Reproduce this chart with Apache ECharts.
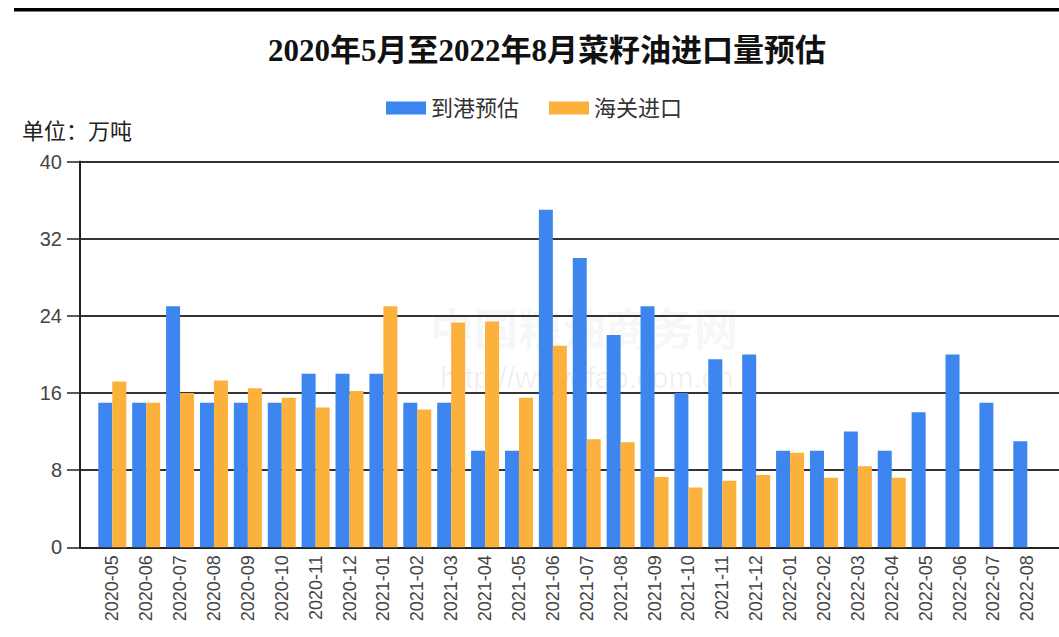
<!DOCTYPE html>
<html>
<head>
<meta charset="utf-8">
<script src="https://cdn.jsdelivr.net/npm/echarts@6/dist/echarts.min.js"></script>
<style>
  html, body { margin: 0; padding: 0; background: #fff; }
  #chart { width: 1059px; height: 637px; }
</style>
</head>
<body>
<div id="chart"></div>
<script>
// 月份
const months = [
  '2020-05', '2020-06', '2020-07', '2020-08', '2020-09', '2020-10', '2020-11', '2020-12',
  '2021-01', '2021-02', '2021-03', '2021-04', '2021-05', '2021-06', '2021-07', '2021-08',
  '2021-09', '2021-10', '2021-11', '2021-12', '2022-01', '2022-02', '2022-03', '2022-04',
  '2022-05', '2022-06', '2022-07', '2022-08'
]
// 到港预估（万吨）
const arrivalEstimate = [
  15, 15, 25, 15, 15, 15, 18, 18,
  18, 15, 15, 10, 10, 35, 30, 22,
  25, 16, 19.5, 20, 10, 10, 12, 10,
  14, 20, 15, 11
]
// 海关进口（万吨）
const customsImport = [
  17.2, 15, 16, 17.3, 16.5, 15.5, 14.5, 16.2,
  25, 14.3, 23.3, 23.4, 15.5, 20.9, 11.2, 10.9,
  7.3, 6.2, 6.9, 7.5, 9.8, 7.2, 8.4, 7.2,
  null, null, null, null
]
const seriesNames = ['到港预估', '海关进口']
const yTicks = { min: 0, max: 40, interval: 8 }

const font = "'Liberation Sans', 'Noto Sans CJK SC', sans-serif"
const lineColor = '#222'

const chart = echarts.init(document.getElementById('chart'), null, { renderer: 'svg' })

const option = {
  backgroundColor: '#fff',
  animation: false,
  color: ['#3D86F0', '#FBB13C'],
  title: {
    text: '2020年5月至2022年8月菜籽油进口量预估',
    left: 542,
    textAlign: 'center',
    top: 30,
    textStyle: {
      fontFamily: "'Liberation Serif', 'Noto Sans CJK SC', serif",
      fontSize: 31,
      fontWeight: 'bold',
      color: '#111'
    }
  },
  legend: {
    data: seriesNames,
    left: 381,
    top: 92,
    itemWidth: 40,
    itemHeight: 13,
    itemGap: 30,
    icon: 'rect',
    textStyle: { fontFamily: font, fontSize: 22, color: '#333', padding: [0, 0, 0, 0] }
  },
  graphic: [
    // 顶部黑线
    { type: 'rect', left: 14, top: 8, shape: { width: 1045, height: 3.5 }, style: { fill: '#000' } },
    // 单位
    { type: 'text', left: 22, top: 120, style: { text: '单位：万吨', font: `22px ${font}`, fill: '#222' } },
    // 水印
    { type: 'text', left: 430, top: 305, z: -1, style: { text: '中国粮油商务网', font: `bold 44px 'Noto Sans CJK SC'`, fill: 'rgba(0,0,0,0.055)' } },
    { type: 'text', left: 440, top: 362, z: -1, style: { text: 'http://www.fao.com.cn', font: `30px ${font}`, fill: 'rgba(0,0,0,0.065)' } }
  ],
  grid: [
    // 坐标框与网格线
    { left: 80, right: 0, top: 161.5, bottom: 89.7 },
    // 柱子所在区域
    { left: 95.35, right: 14.75, top: 161.5, bottom: 89.7 }
  ],
  xAxis: [
    {
      gridIndex: 0,
      type: 'category',
      data: months,
      axisLine: { lineStyle: { color: lineColor, width: 2 } },
      axisTick: { show: false },
      axisLabel: { show: false }
    },
    {
      gridIndex: 1,
      type: 'category',
      data: months,
      axisLine: { show: false },
      axisTick: { alignWithLabel: true, length: 6, lineStyle: { color: lineColor, width: 2 } },
      axisLabel: {
        rotate: 90,
        margin: 8,
        fontFamily: font,
        fontSize: 18,
        color: '#444',
        padding: [0, 0, 10, 0]
      }
    }
  ],
  yAxis: [
    {
      gridIndex: 0,
      type: 'value',
      ...yTicks,
      axisLine: { show: true, lineStyle: { color: lineColor, width: 2 } },
      axisTick: { show: true, length: 13, lineStyle: { color: lineColor, width: 1.5 } },
      axisLabel: { margin: 18, fontFamily: font, fontSize: 20, color: '#444' },
      splitLine: { lineStyle: { color: '#333', width: 2 } }
    },
    {
      gridIndex: 1,
      type: 'value',
      ...yTicks,
      show: false
    }
  ],
  series: [
    {
      name: seriesNames[0],
      type: 'bar',
      xAxisIndex: 1,
      yAxisIndex: 1,
      barWidth: 14,
      barGap: 0,
      data: arrivalEstimate
    },
    {
      name: seriesNames[1],
      type: 'bar',
      xAxisIndex: 1,
      yAxisIndex: 1,
      barWidth: 14,
      barGap: 0,
      data: customsImport
    }
  ]
}

chart.setOption(option)
</script>
</body>
</html>
